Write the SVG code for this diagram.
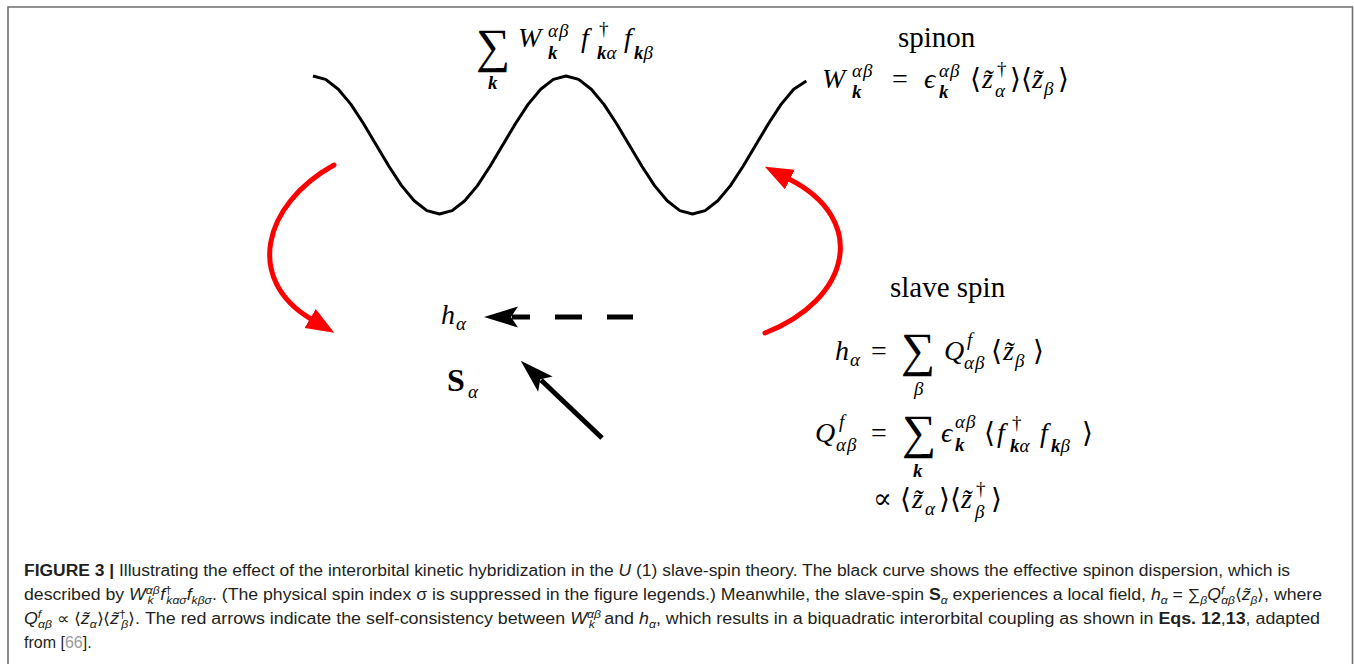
<svg xmlns="http://www.w3.org/2000/svg" width="1354" height="664" viewBox="0 0 1354 664">
<style>
.m{font-family:"Liberation Serif","DejaVu Serif",serif;font-style:italic;fill:#000}
.m text{font-family:"Liberation Serif","DejaVu Serif",serif}
.n{font-style:normal}
.bk{font-weight:bold;font-style:italic}
.L{font-size:28px}
.S{font-size:19px}
.sum{font-family:"Liberation Serif","DejaVu Serif",serif;font-size:48px;font-style:normal;fill:#000}
.lab{font-family:"Liberation Serif","DejaVu Serif",serif;font-size:29px;font-style:normal;fill:#000}
.cap{font-family:"Liberation Sans",Arial,sans-serif;font-size:16px;fill:#231f20}
.ci{font-style:italic}
.cs{font-size:11px}
.red{fill:none;stroke:#ff0000;stroke-width:5;stroke-linecap:round}
.blk{fill:none;stroke:#000;stroke-width:5;stroke-linecap:butt}
</style>
<defs>
<marker id="rh" markerUnits="userSpaceOnUse" markerWidth="32" markerHeight="26" viewBox="0 -13 32 26" refX="1" refY="0" orient="auto">
<path d="M0,-11 L28,0 L0,11 Z" fill="#ff0000"/>
</marker>
<marker id="bh" markerUnits="userSpaceOnUse" markerWidth="38" markerHeight="26" viewBox="-2 -13 38 26" refX="6" refY="0" orient="auto">
<path d="M0,-10.5 L34,0 L0,10.5 L7,0 Z" fill="#000"/>
</marker>
</defs>
<rect width="1354" height="664" fill="#fff"/>
<path d="M8,664 V7 H1352.5 V664" fill="none" stroke="#6e6e6e" stroke-width="1.6"/>

<g id="spinon-dispersion">
<polyline fill="none" stroke="#000" stroke-width="3" stroke-linejoin="round" points="313,76 325.65,79.4 338.3,89.2 350.95,104.4 363.6,123.7 376.25,145 388.9,166.3 401.55,185.6 414.2,200.8 426.85,210.6 439.5,214 452.15,210.6 464.8,200.8 477.45,185.6 490.1,166.3 502.75,145 515.4,123.7 528.05,104.4 540.7,89.2 553.35,79.4 566,76 578.65,79.4 591.3,89.2 603.95,104.4 616.6,123.7 629.25,145 641.9,166.3 654.55,185.6 667.2,200.8 679.85,210.6 692.5,214 705.15,210.6 717.8,200.8 730.45,185.6 743.1,166.3 755.75,145 768.4,123.7 781.05,104.4 793.7,89.2 806.35,81"/>
</g>

<g id="spinon-hamiltonian" class="m">
<text class="sum" x="476" y="62">∑</text>
<text class="S bk" x="488" y="89">k</text>
<text class="L" x="518" y="47">W</text>
<text class="S" x="548" y="37" letter-spacing="1">αβ</text>
<text class="S bk" x="548" y="59">k</text>
<text class="L" x="581" y="47">f</text>
<text class="S n" x="599" y="35">†</text>
<text class="S" x="597" y="59"><tspan class="bk">k</tspan>α</text>
<text class="L" x="624" y="47">f</text>
<text class="S" x="634" y="59"><tspan class="bk">k</tspan>β</text>
</g>

<g id="spinon-label" class="m">
<text class="lab" x="898" y="47">spinon</text>
<text class="L" x="822" y="88">W</text>
<text class="S" x="852" y="77" letter-spacing="1">αβ</text>
<text class="S bk" x="852" y="98">k</text>
<text class="L n" x="892" y="88">=</text>
<text class="L" x="924" y="88">ϵ</text>
<text class="S" x="939" y="77" letter-spacing="1">αβ</text>
<text class="S bk" x="939" y="98">k</text>
<text class="L n" x="970" y="88">⟨</text>
<text class="L" x="982" y="88">z̃</text>
<text class="S n" x="997" y="75">†</text>
<text class="S" x="995" y="97">α</text>
<text class="L n" x="1010" y="88">⟩⟨</text>
<text class="L" x="1032" y="88">z̃</text>
<text class="S" x="1044" y="95">β</text>
<text class="L n" x="1058" y="88">⟩</text>
</g>

<g id="slave-spin-label" class="m">
<text class="lab" x="890" y="297">slave spin</text>
<text class="L" x="835" y="360">h</text>
<text class="S" x="850" y="366">α</text>
<text class="L n" x="871" y="360">=</text>
<text class="sum" x="901" y="366">∑</text>
<text class="S" x="914" y="395">β</text>
<text class="L" x="944" y="360">Q</text>
<text class="S" x="967" y="346">f</text>
<text class="S" x="964" y="369" letter-spacing="1">αβ</text>
<text class="L n" x="991" y="360">⟨</text>
<text class="L" x="1003" y="360">z̃</text>
<text class="S" x="1015" y="367">β</text>
<text class="L n" x="1033" y="360">⟩</text>

<text class="L" x="815" y="442">Q</text>
<text class="S" x="839" y="428">f</text>
<text class="S" x="836" y="451" letter-spacing="1">αβ</text>
<text class="L n" x="871" y="442">=</text>
<text class="sum" x="902" y="448">∑</text>
<text class="S bk" x="913" y="477">k</text>
<text class="L" x="941" y="442">ϵ</text>
<text class="S" x="955" y="428" letter-spacing="1">αβ</text>
<text class="S bk" x="955" y="451">k</text>
<text class="L n" x="984" y="442">⟨</text>
<text class="L" x="997" y="442">f</text>
<text class="S n" x="1012" y="429">†</text>
<text class="S" x="1010" y="452"><tspan class="bk">k</tspan>α</text>
<text class="L" x="1040" y="442">f</text>
<text class="S" x="1051" y="452"><tspan class="bk">k</tspan>β</text>
<text class="L n" x="1082" y="442">⟩</text>

<text class="L n" x="873" y="508">∝</text>
<text class="L n" x="900" y="508">⟨</text>
<text class="L" x="912" y="508">z̃</text>
<text class="S" x="925" y="515">α</text>
<text class="L n" x="939" y="508">⟩⟨</text>
<text class="L" x="961" y="508">z̃</text>
<text class="S n" x="976" y="495">†</text>
<text class="S" x="975" y="518">β</text>
<text class="L n" x="991" y="508">⟩</text>
</g>

<g id="h-alpha" class="m">
<text class="L" x="441" y="324">h</text>
<text class="S" x="456" y="330">α</text>
</g>

<g id="s-alpha" class="m">
<text class="n" x="447" y="391" font-size="32" font-weight="bold">S</text>
<text class="S" x="468" y="398">α</text>
</g>

<g id="connectors">
<path class="red" d="M334,165 C262,205 245,280 311,319" marker-end="url(#rh)"/>
<path class="red" d="M765,333 C850,300 870,220 789,179" marker-end="url(#rh)"/>
<path class="blk" d="M530,317 H512" marker-end="url(#bh)"/>
<path class="blk" d="M555,317 H582 M607,317 H633"/>
<path class="blk" d="M602,438 L541,380" marker-end="url(#bh)"/>
</g>

<g id="caption" class="cap">
<text x="24" y="576" textLength="1266" lengthAdjust="spacingAndGlyphs"><tspan font-weight="bold">FIGURE 3 | </tspan>Illustrating the effect of the interorbital kinetic hybridization in the <tspan class="ci">U</tspan> (1) slave-spin theory. The black curve shows the effective spinon dispersion, which is</text>
<text x="24" y="600" textLength="1298" lengthAdjust="spacingAndGlyphs">described by <tspan class="ci">W</tspan><tspan class="cs ci" dy="-6">αβ</tspan><tspan class="cs ci" dx="-11" dy="10">k</tspan><tspan class="ci" dx="6" dy="-4">f</tspan><tspan class="cs" dy="-6">†</tspan><tspan class="cs ci" dx="-5" dy="10">kασ</tspan><tspan class="ci" dy="-4">f</tspan><tspan class="cs ci" dy="4">kβσ</tspan><tspan dy="-4">. (The physical spin index σ is suppressed in the figure legends.) Meanwhile, the slave-spin </tspan><tspan font-weight="bold">S</tspan><tspan class="cs ci" dy="4">α</tspan><tspan dy="-4"> experiences a local field, </tspan><tspan class="ci">h</tspan><tspan class="cs ci" dy="4">α</tspan><tspan dy="-4"> = ∑</tspan><tspan class="cs ci" dy="4">β</tspan><tspan class="ci" dy="-4">Q</tspan><tspan class="cs ci" dy="-6">f</tspan><tspan class="cs ci" dx="-3" dy="10">αβ</tspan><tspan dy="-4">⟨</tspan><tspan class="ci">z̃</tspan><tspan class="cs ci" dy="4">β</tspan><tspan dy="-4">⟩, where</tspan></text>
<text x="24" y="624" textLength="1296" lengthAdjust="spacingAndGlyphs"><tspan class="ci">Q</tspan><tspan class="cs ci" dy="-6">f</tspan><tspan class="cs ci" dx="-3" dy="10">αβ</tspan><tspan dy="-4"> ∝ ⟨</tspan><tspan class="ci">z̃</tspan><tspan class="cs ci" dy="4">α</tspan><tspan dy="-4">⟩⟨</tspan><tspan class="ci">z̃</tspan><tspan class="cs" dy="-6">†</tspan><tspan class="cs ci" dx="-4" dy="10">β</tspan><tspan dy="-4">⟩. The red arrows indicate the self-consistency between </tspan><tspan class="ci">W</tspan><tspan class="cs ci" dy="-6">αβ</tspan><tspan class="cs ci" dx="-11" dy="10">k</tspan><tspan dx="4" dy="-4"> and </tspan><tspan class="ci">h</tspan><tspan class="cs ci" dy="4">α</tspan><tspan dy="-4">, which results in a biquadratic interorbital coupling as shown in </tspan><tspan font-weight="bold">Eqs. 12</tspan>,<tspan font-weight="bold">13</tspan>, adapted</text>
<text x="24" y="648">from [<tspan fill="#9a9a9a">66</tspan>].</text>
</g>
</svg>
